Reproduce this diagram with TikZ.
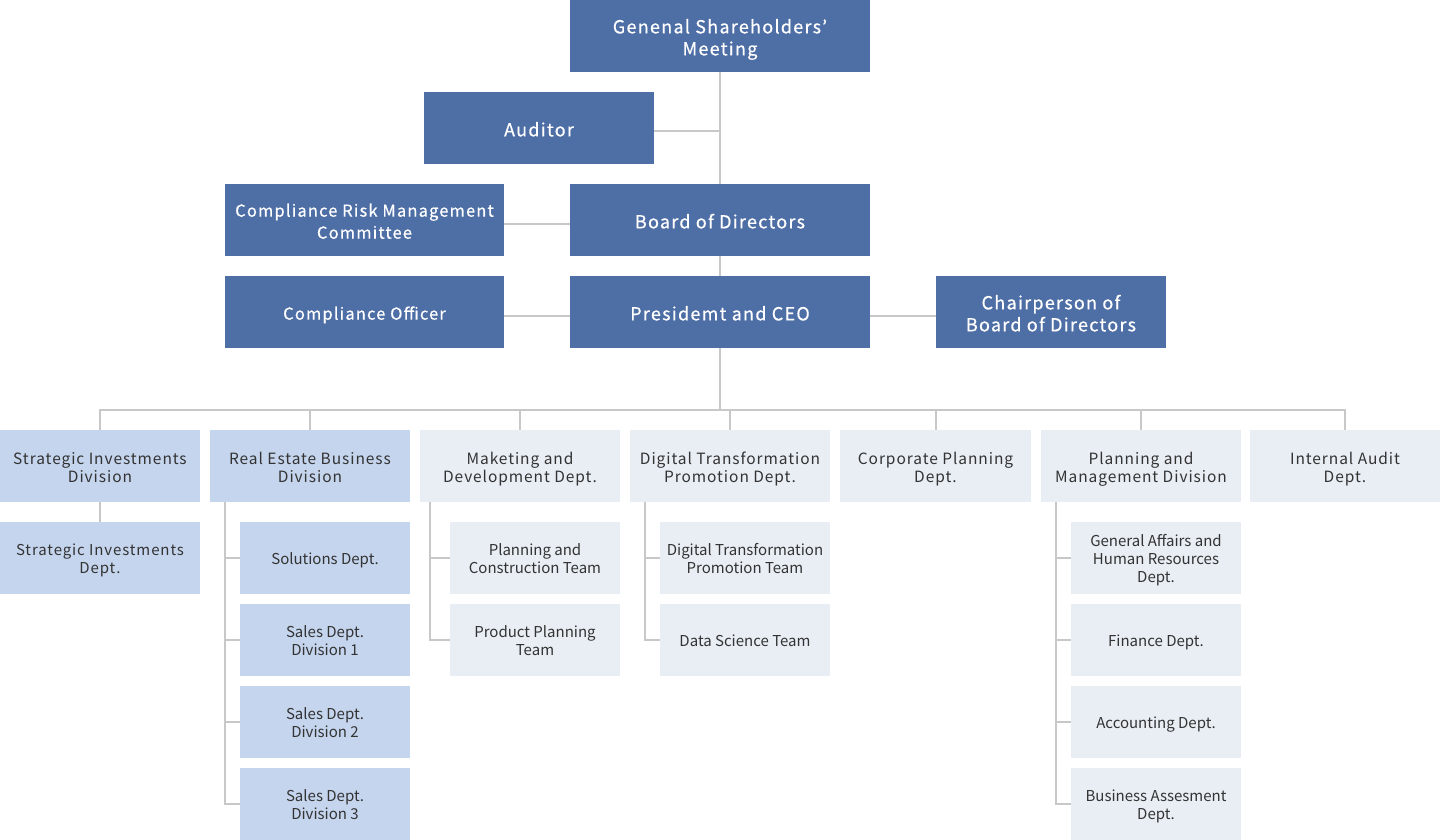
\documentclass[tikz,border=0pt]{standalone}
\usepackage{fontspec}
\setmainfont{Noto Sans CJK JP}
\newfontfamily\trackfont[LetterSpace=6]{Noto Sans CJK JP}
\newfontfamily\topfont[LetterSpace=7,FakeBold=0.5]{Noto Sans CJK JP}
\newcommand\bs{\rule{0pt}{1.2em}}
\newcommand\es{\rule[-0.27em]{0pt}{0.27em}}
\definecolor{darkbox}{HTML}{4E6EA6}
\definecolor{lightbox}{HTML}{C5D5EE}
\definecolor{palebox}{HTML}{E9EEF5}
\definecolor{linec}{HTML}{C8C8C8}
\definecolor{txt}{HTML}{333333}
\tikzset{
  boxbase/.style={minimum height=72pt, inner sep=0pt, align=center},
  topbox/.style={boxbase, fill=darkbox, text=white,
    font=\topfont\fontsize{18}{22}\selectfont},
  divlight/.style={boxbase, fill=lightbox, text=txt,
    font=\trackfont\fontsize{15.5}{18}\selectfont},
  divpale/.style={boxbase, fill=palebox, text=txt,
    font=\trackfont\fontsize{15.5}{18}\selectfont},
  sublight/.style={boxbase, fill=lightbox, text=txt, minimum width=170pt,
    font=\fontsize{15}{18}\selectfont},
  subpale/.style={boxbase, fill=palebox, text=txt, minimum width=170pt,
    font=\fontsize{15}{18}\selectfont},
  conn/.style={draw=linec, line width=2pt},
}
\begin{document}
\begin{tikzpicture}[x=1pt,y=-1pt]
\useasboundingbox (0,0) rectangle (1440,840);
% top level
\node[topbox, minimum width=300pt] (gsm) at (720,36) {\bs Genenal Shareholders’\\Meeting\es};
\node[topbox, minimum width=230pt] (aud) at (539,128) {\bs Auditor\es};
\node[topbox, minimum width=279pt, font=\topfont\fontsize{16.5}{22}\selectfont] (crmc) at (364.5,220) {\bs Compliance Risk Management\\Committee\es};
\node[topbox, minimum width=300pt] (bod) at (720,220) {\bs Board of Directors\es};
\node[topbox, minimum width=279pt, font=\topfont\fontsize{16.5}{22}\selectfont] (co) at (364.5,312) {\bs Compliance Officer\es};
\node[topbox, minimum width=300pt] (ceo) at (720,312) {\bs Presidemt and CEO\es};
\node[topbox, minimum width=230pt] (chair) at (1051,312) {\bs Chairperson of\\Board of Directors\es};
% divisions
\node[divlight, minimum width=200pt] (d1) at (100,466) {\bs Strategic Investments\\Division\es};
\node[divlight, minimum width=200pt] (d2) at (310,466) {\bs Real Estate Business\\Division\es};
\node[divpale, minimum width=200pt] (d3) at (520,466) {\bs Maketing and\\Development Dept.\es};
\node[divpale, minimum width=200pt] (d4) at (730,466) {\bs Digital Transformation\\Promotion Dept.\es};
\node[divpale, minimum width=191pt] (d5) at (935.5,466) {\bs Corporate Planning\\Dept.\es};
\node[divpale, minimum width=200pt] (d6) at (1141,466) {\bs Planning and\\Management Division\es};
\node[divpale, minimum width=190pt] (d7) at (1345,466) {\bs Internal Audit\\Dept.\es};
% subs
\node[divlight, minimum width=200pt, font=\trackfont\fontsize{15}{18}\selectfont] (s1) at (100,558) {\bs Strategic Investments\\Dept.\es};
\node[sublight] (r1) at (325,558) {\bs Solutions Dept.\es};
\node[sublight] (r2) at (325,640) {\bs Sales Dept.\\Division 1\es};
\node[sublight] (r3) at (325,722) {\bs Sales Dept.\\Division 2\es};
\node[sublight] (r4) at (325,804) {\bs Sales Dept.\\Division 3\es};
\node[subpale] (m1) at (535,558) {\bs Planning and\\Construction Team\es};
\node[subpale] (m2) at (535,640) {\bs Product Planning\\Team\es};
\node[subpale] (g1) at (745,558) {\bs Digital Transformation\\Promotion Team\es};
\node[subpale] (g2) at (745,640) {\bs Data Science Team\es};
\node[subpale] (p1) at (1156,558) {\bs General Affairs and\\Human Resources\\Dept.\es};
\node[subpale] (p2) at (1156,640) {\bs Finance Dept.\es};
\node[subpale] (p3) at (1156,722) {\bs Accounting Dept.\es};
\node[subpale] (p4) at (1156,804) {\bs Business Assesment\\Dept.\es};
% coordinates
\coordinate (bus) at (720,410);
\coordinate (ra) at (225,502);
\coordinate (ma) at (430,502);
\coordinate (ga) at (645,502);
\coordinate (pa) at (1056,502);
% connectors
\begin{scope}[on background layer/.try]
\draw[conn] (gsm.south) -- (bod.north);
\draw[conn] (bod.south) -- (ceo.north);
\draw[conn] (ceo.south) -- (bus);
\draw[conn] ([yshift=-3pt]aud.east) -- ([yshift=-3pt]aud.east -| gsm.south);
\draw[conn] ([yshift=-4pt]crmc.east) -- ([yshift=-4pt]bod.west);
\draw[conn] ([yshift=-4pt]co.east) -- ([yshift=-4pt]ceo.west);
\draw[conn] ([yshift=-4pt]ceo.east) -- ([yshift=-4pt]chair.west);
\draw[conn] (d1.north) -- ++(0,-20) -| (d7.north);
\foreach \d in {d2,d3,d4,d5,d6} \draw[conn] (\d.north) -- ++(0,-20);
\draw[conn] (d1.south) -- (s1.north);
\draw[conn] (ra) |- (r4.west);
\foreach \n in {r1,r2,r3} \draw[conn] (\n.west) -- (\n.west -| ra);
\draw[conn] (ma) |- (m2.west);
\draw[conn] (m1.west) -- (m1.west -| ma);
\draw[conn] (ga) |- (g2.west);
\draw[conn] (g1.west) -- (g1.west -| ga);
\draw[conn] (pa) |- (p4.west);
\foreach \n in {p1,p2,p3} \draw[conn] (\n.west) -- (\n.west -| pa);
\end{scope}
\end{tikzpicture}
\end{document}
